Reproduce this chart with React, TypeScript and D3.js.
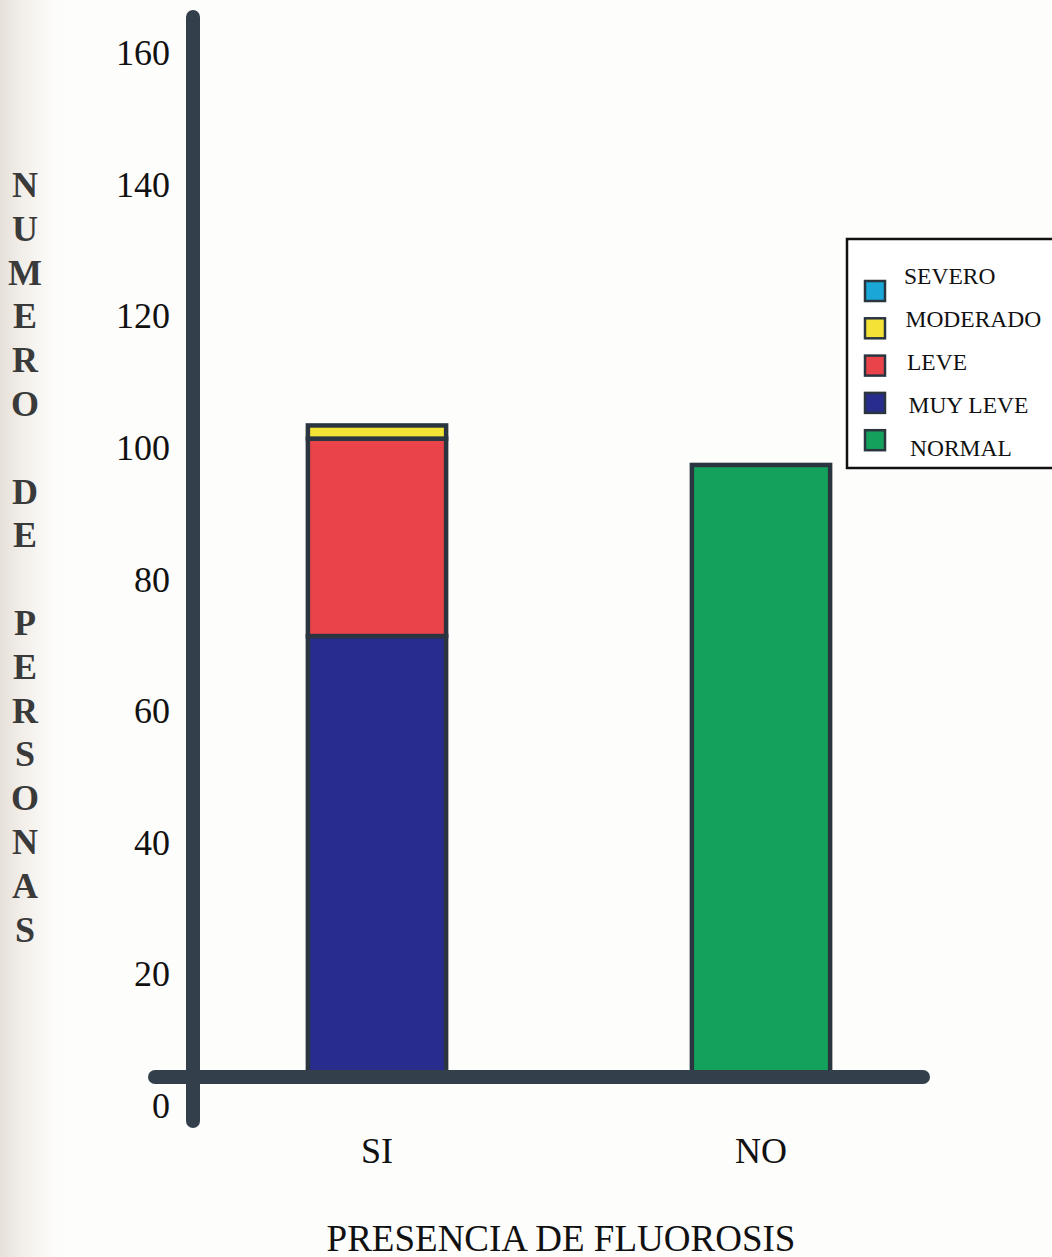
import React from "react";
import * as d3 from "d3";

// Groups on the horizontal axis
const categories = ["SI", "NO"];

// Severity classes, stacked from the bottom up
const severityKeys = ["NORMAL", "MUY LEVE", "LEVE", "MODERADO", "SEVERO"];

// Number of people per class in each group
const normalValues = [0, 93];
const muyLeveValues = [67, 0];
const leveValues = [30, 0];
const moderadoValues = [2, 0];
const severoValues = [0, 0];

// Legend order, top to bottom
const legendKeys = ["SEVERO", "MODERADO", "LEVE", "MUY LEVE", "NORMAL"];

const yTicks = [0, 20, 40, 60, 80, 100, 120, 140, 160];
const yTitle = "NUMERO DE PERSONAS";
const xTitle = "PRESENCIA DE FLUOROSIS";

const colors: Record<string, string> = {
  SEVERO: "#1aa6d6",
  MODERADO: "#f4e336",
  LEVE: "#ea4349",
  "MUY LEVE": "#282c8c",
  NORMAL: "#14a15b",
};

const W = 1052;
const H = 1257;
const SERIF = "'Liberation Serif', 'Times New Roman', serif";
const AXIS = "#33404b";
const OUTLINE = "#2a3540";

export default function App() {
  const rows = categories.map((c, i) => ({
    cat: c,
    NORMAL: normalValues[i],
    "MUY LEVE": muyLeveValues[i],
    LEVE: leveValues[i],
    MODERADO: moderadoValues[i],
    SEVERO: severoValues[i],
  }));

  const series = d3.stack<any>().keys(severityKeys)(rows);

  const x = d3
    .scaleBand<string>()
    .domain(categories)
    .range([185, 953])
    .paddingInner(0.64)
    .paddingOuter(0.32);

  const y = d3.scaleLinear().domain([0, 160]).range([1077, 24]);

  const labelShift = 29;
  const axisX = 193;

  // vertical title, one letter per line
  const titleLetters = yTitle.split("");

  return (
    <svg
      width={W}
      height={H}
      style={{ position: "absolute", left: 0, top: 0, background: "#fdfdfb" }}
      fontFamily={SERIF}
    >
      <defs>
        <linearGradient id="edge" x1="0" x2="1" y1="0" y2="0">
          <stop offset="0" stopColor="#dcd3ca" stopOpacity={0.7} />
          <stop offset="0.45" stopColor="#ece6df" stopOpacity={0.45} />
          <stop offset="1" stopColor="#fdfdfb" stopOpacity={0} />
        </linearGradient>
      </defs>
      <rect x={0} y={0} width={70} height={H} fill="url(#edge)" />

      {/* bars */}
      {series.map((s) =>
        s.map((d, i) => {
          const v = d[1] - d[0];
          if (v <= 0) return null;
          const cat = categories[i];
          return (
            <rect
              key={s.key + cat}
              x={x(cat)}
              y={y(d[1])}
              width={x.bandwidth()}
              height={y(d[0]) - y(d[1])}
              fill={colors[s.key]}
              stroke={OUTLINE}
              strokeWidth={4.5}
            />
          );
        })
      )}

      {/* axes */}
      <line
        x1={axisX}
        x2={axisX}
        y1={17}
        y2={1121}
        stroke={AXIS}
        strokeWidth={14}
        strokeLinecap="round"
      />
      <line
        x1={155}
        x2={923}
        y1={y(0)}
        y2={y(0)}
        stroke={AXIS}
        strokeWidth={14}
        strokeLinecap="round"
      />

      {/* tick labels */}
      {yTicks.map((t) => (
        <text
          key={t}
          x={170}
          y={y(t) + labelShift}
          textAnchor="end"
          dominantBaseline="central"
          fontSize={36}
          fill="#111"
        >
          {t}
        </text>
      ))}

      {/* category labels */}
      {categories.map((c) => (
        <text
          key={c}
          x={(x(c) as number) + x.bandwidth() / 2}
          y={1151}
          textAnchor="middle"
          dominantBaseline="central"
          fontSize={36}
          fill="#111"
        >
          {c}
        </text>
      ))}

      {/* axis titles */}
      <text
        x={561}
        y={1238}
        textAnchor="middle"
        dominantBaseline="central"
        fontSize={37}
        fill="#111"
      >
        {xTitle}
      </text>
      {titleLetters.map((ch, i) =>
        ch === " " ? null : (
          <text
            key={i}
            x={25}
            y={185 + i * 43.8}
            textAnchor="middle"
            dominantBaseline="central"
            fontSize={36}
            fontWeight={700}
            fill="#3a3a3a"
          >
            {ch}
          </text>
        )
      )}

      {/* legend */}
      <rect
        x={847}
        y={239}
        width={220}
        height={229}
        fill="#ffffff"
        stroke="#111"
        strokeWidth={2.5}
      />
      {legendKeys.map((k, i) => (
        <g key={k}>
          <rect
            x={865}
            y={281 + i * 37.3}
            width={20}
            height={20}
            fill={colors[k]}
            stroke={OUTLINE}
            strokeWidth={2.5}
          />
          <text
            x={904 + i * 1.5}
            y={276 + i * 43}
            dominantBaseline="central"
            fontSize={23.5}
            fill="#111"
          >
            {k}
          </text>
        </g>
      ))}
    </svg>
  );
}
